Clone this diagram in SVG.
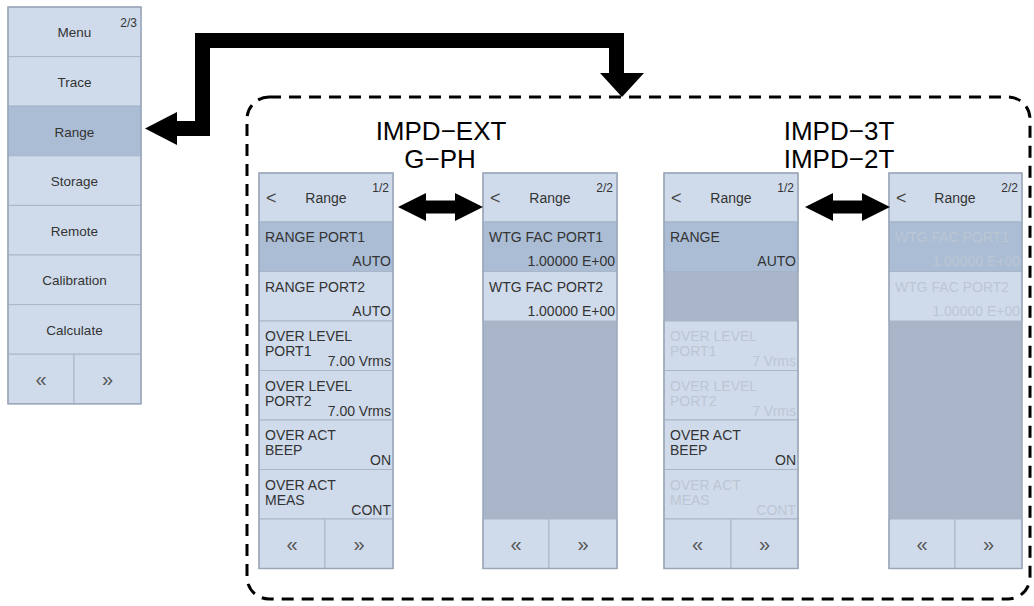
<svg xmlns="http://www.w3.org/2000/svg" width="1034" height="606" viewBox="0 0 1034 606">
<style>
.b{fill:#cfdbeb;stroke:#aab6c7;stroke-width:1}
.s{fill:#aabdd5;stroke:#9fb0c6;stroke-width:1}
.f{fill:#a9b6c9}
.o{fill:none;stroke:#9aa7b9;stroke-width:1.5}
.t{font-family:"Liberation Sans",Arial,sans-serif;font-size:14px;fill:#333}
.m{font-family:"Liberation Sans",Arial,sans-serif;font-size:13.5px;fill:#333;text-anchor:middle}
.d{fill:#bcc6d3}
.c{text-anchor:middle}
.r{text-anchor:end}
.pg{font-size:12px}
.ch{font-size:20px;fill:#555;text-anchor:middle}
.bk{font-size:18px;fill:#444}
.lbl{font-family:"Liberation Sans",Arial,sans-serif;font-size:26px;fill:#000;text-anchor:middle}
</style>

<!-- Left menu -->
<g id="menu">
  <rect class="b" x="8" y="7" width="133" height="49.6"/>
  <text class="m" x="74.5" y="37">Menu</text>
  <text class="t pg" x="137" y="27" text-anchor="end">2/3</text>
  <rect class="b" x="8" y="56.6" width="133" height="49.6"/>
  <text class="m" x="74.5" y="87">Trace</text>
  <rect class="s" x="8" y="106.2" width="133" height="49.6"/>
  <text class="m" x="74.5" y="136.5">Range</text>
  <rect class="b" x="8" y="155.8" width="133" height="49.6"/>
  <text class="m" x="74.5" y="186">Storage</text>
  <rect class="b" x="8" y="205.4" width="133" height="49.6"/>
  <text class="m" x="74.5" y="235.5">Remote</text>
  <rect class="b" x="8" y="255" width="133" height="49.6"/>
  <text class="m" x="74.5" y="285">Calibration</text>
  <rect class="b" x="8" y="304.6" width="133" height="49.6"/>
  <text class="m" x="74.5" y="335">Calculate</text>
  <rect class="b" x="8" y="354.2" width="66" height="49.6"/>
  <rect class="b" x="74" y="354.2" width="67" height="49.6"/>
  <text class="t ch" x="41" y="386">«</text>
  <text class="t ch" x="107.5" y="386">»</text>
  <rect class="o" x="8" y="7" width="133" height="396.8"/>
</g>

<!-- Labels -->
<g id="label-ext">
  <text class="lbl" x="441" y="140">IMPD−EXT</text>
  <text class="lbl" x="440" y="168">G−PH</text>
</g>
<g id="label-3t">
  <text class="lbl" x="839" y="140">IMPD−3T</text>
  <text class="lbl" x="839" y="168">IMPD−2T</text>
</g>

<!-- Panel 1 -->
<g id="panel1">
  <rect class="b" x="259" y="173" width="134" height="49"/>
  <text class="t bk" x="266" y="204">&lt;</text>
  <text class="t c" x="326" y="203">Range</text>
  <text class="t pg r" x="389" y="192">1/2</text>
  <rect class="s" x="259" y="222" width="134" height="49.5"/>
  <text class="t" x="265" y="242">RANGE PORT1</text>
  <text class="t r" x="391" y="266">AUTO</text>
  <rect class="b" x="259" y="271.5" width="134" height="49.5"/>
  <text class="t" x="265" y="291.5">RANGE PORT2</text>
  <text class="t r" x="391" y="315.5">AUTO</text>
  <rect class="b" x="259" y="321" width="134" height="49.5"/>
  <text class="t" x="265" y="341">OVER LEVEL</text>
  <text class="t" x="265" y="356">PORT1</text>
  <text class="t r" x="391" y="366">7.00 Vrms</text>
  <rect class="b" x="259" y="370.5" width="134" height="49.5"/>
  <text class="t" x="265" y="390.5">OVER LEVEL</text>
  <text class="t" x="265" y="405.5">PORT2</text>
  <text class="t r" x="391" y="415.5">7.00 Vrms</text>
  <rect class="b" x="259" y="420" width="134" height="49.5"/>
  <text class="t" x="265" y="440">OVER ACT</text>
  <text class="t" x="265" y="455">BEEP</text>
  <text class="t r" x="391" y="465">ON</text>
  <rect class="b" x="259" y="469.5" width="134" height="49.5"/>
  <text class="t" x="265" y="489.5">OVER ACT</text>
  <text class="t" x="265" y="504.5">MEAS</text>
  <text class="t r" x="391" y="514.5">CONT</text>
  <rect class="b" x="259" y="519" width="66" height="49.5"/>
  <rect class="b" x="325" y="519" width="68" height="49.5"/>
  <text class="t ch" x="292" y="551">«</text>
  <text class="t ch" x="359" y="551">»</text>
  <rect class="o" x="259" y="173" width="134" height="395.5"/>
</g>

<!-- Panel 2 -->
<g id="panel2">
  <rect class="b" x="483" y="173" width="134" height="49"/>
  <text class="t bk" x="490" y="204">&lt;</text>
  <text class="t c" x="550" y="203">Range</text>
  <text class="t pg r" x="613" y="192">2/2</text>
  <rect class="s" x="483" y="222" width="134" height="49.5"/>
  <text class="t" x="489" y="242">WTG FAC PORT1</text>
  <text class="t r" x="615" y="266">1.00000 E+00</text>
  <rect class="b" x="483" y="271.5" width="134" height="49.5"/>
  <text class="t" x="489" y="291.5">WTG FAC PORT2</text>
  <text class="t r" x="615" y="315.5">1.00000 E+00</text>
  <rect class="f" x="483" y="321" width="134" height="198"/>
  <rect class="b" x="483" y="519" width="66" height="49.5"/>
  <rect class="b" x="549" y="519" width="68" height="49.5"/>
  <text class="t ch" x="516" y="551">«</text>
  <text class="t ch" x="583" y="551">»</text>
  <rect class="o" x="483" y="173" width="134" height="395.5"/>
</g>

<!-- Panel 3 -->
<g id="panel3">
  <rect class="b" x="664" y="173" width="134" height="49"/>
  <text class="t bk" x="671" y="204">&lt;</text>
  <text class="t c" x="731" y="203">Range</text>
  <text class="t pg r" x="794" y="192">1/2</text>
  <rect class="s" x="664" y="222" width="134" height="49.5"/>
  <text class="t" x="670" y="242">RANGE</text>
  <text class="t r" x="796" y="266">AUTO</text>
  <rect class="f" x="664" y="271.5" width="134" height="49.5"/>
  <rect class="b" x="664" y="321" width="134" height="49.5"/>
  <text class="t d" x="670" y="341">OVER LEVEL</text>
  <text class="t d" x="670" y="356">PORT1</text>
  <text class="t d r" x="796" y="366">7 Vrms</text>
  <rect class="b" x="664" y="370.5" width="134" height="49.5"/>
  <text class="t d" x="670" y="390.5">OVER LEVEL</text>
  <text class="t d" x="670" y="405.5">PORT2</text>
  <text class="t d r" x="796" y="415.5">7 Vrms</text>
  <rect class="b" x="664" y="420" width="134" height="49.5"/>
  <text class="t" x="670" y="440">OVER ACT</text>
  <text class="t" x="670" y="455">BEEP</text>
  <text class="t r" x="796" y="465">ON</text>
  <rect class="b" x="664" y="469.5" width="134" height="49.5"/>
  <text class="t d" x="670" y="489.5">OVER ACT</text>
  <text class="t d" x="670" y="504.5">MEAS</text>
  <text class="t d r" x="796" y="514.5">CONT</text>
  <rect class="b" x="664" y="519" width="67" height="49.5"/>
  <rect class="b" x="731" y="519" width="67" height="49.5"/>
  <text class="t ch" x="697.5" y="551">«</text>
  <text class="t ch" x="764.5" y="551">»</text>
  <rect class="o" x="664" y="173" width="134" height="395.5"/>
</g>

<!-- Panel 4 -->
<g id="panel4">
  <rect class="b" x="889" y="173" width="133" height="49"/>
  <text class="t bk" x="896" y="204">&lt;</text>
  <text class="t c" x="955" y="203">Range</text>
  <text class="t pg r" x="1018" y="192">2/2</text>
  <rect class="s" x="889" y="222" width="133" height="49.5"/>
  <text class="t d" x="895" y="242">WTG FAC PORT1</text>
  <text class="t d r" x="1020" y="266">1.00000 E+00</text>
  <rect class="b" x="889" y="271.5" width="133" height="49.5"/>
  <text class="t d" x="895" y="291.5">WTG FAC PORT2</text>
  <text class="t d r" x="1020" y="315.5">1.00000 E+00</text>
  <rect class="f" x="889" y="321" width="133" height="198"/>
  <rect class="b" x="889" y="519" width="66" height="49.5"/>
  <rect class="b" x="955" y="519" width="67" height="49.5"/>
  <text class="t ch" x="922" y="551">«</text>
  <text class="t ch" x="988.5" y="551">»</text>
  <rect class="o" x="889" y="173" width="133" height="395.5"/>
</g>

<!-- Dashed group frame -->
<g id="group-frame">
  <rect x="247" y="97" width="783" height="502" rx="22" ry="22" fill="none" stroke="#000" stroke-width="3" stroke-dasharray="12 8"/>
</g>

<!-- Connectors -->
<g id="connectors" fill="#000">
  <path d="M176,128.5 H202.5 V40.5 H616.5 V74" fill="none" stroke="#000" stroke-width="15" stroke-linejoin="miter"/>
  <polygon points="145,128.5 177,112 177,145"/>
  <polygon points="600,73 644,73 622,97"/>
  <polygon points="398,207 426,193 426,200.5 455,200.5 455,193 483,207 455,221 455,213.5 426,213.5 426,221"/>
  <polygon points="805,207 833,193 833,200.5 862,200.5 862,193 890,207 862,221 862,213.5 833,213.5 833,221"/>
</g>
</svg>
